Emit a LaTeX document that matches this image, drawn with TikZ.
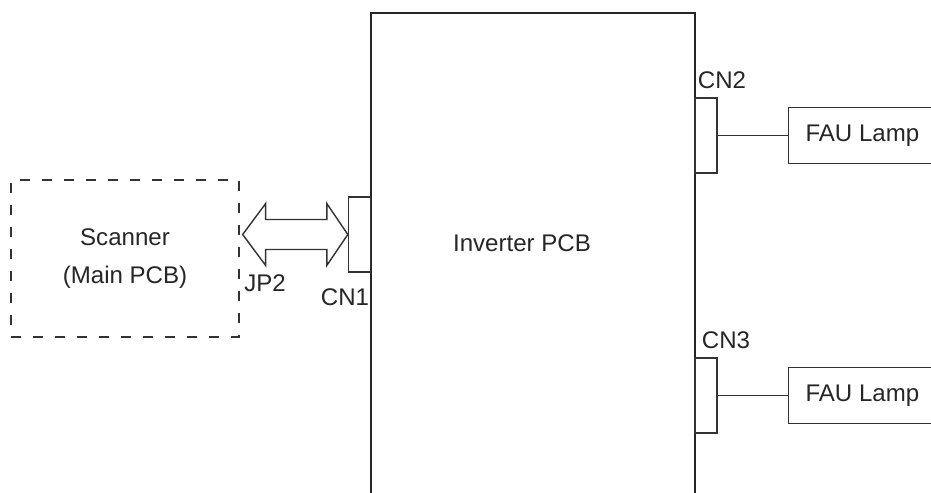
\documentclass[tikz,border=0pt]{standalone}
\usepackage{fontspec}
\setmainfont{Liberation Sans}
\usepackage{tikz}
\usetikzlibrary{arrows.meta,positioning,calc}

\begin{document}
\begin{tikzpicture}[
        x=0.02cm, y=-0.02cm,
        node distance=1.4cm,
        every node/.style={font=\fontsize{13.7}{21.6}\selectfont, text=black!85},
        board/.style={
            draw=black!80,
            line width=0.8pt,
            dash pattern=on 0.2cm off 0.24cm,
            minimum width=4.56cm,
            minimum height=3.14cm,
            align=center
        },
        conn/.style={
            draw=black!80,
            line width=0.8pt,
            minimum width=0.44cm,
            minimum height=1.5cm,
            inner sep=0pt
        },
        lamp/.style={
            draw=black!80,
            line width=0.8pt,
            minimum width=2.96cm,
            minimum height=1.12cm
        },
        wire/.style={draw=black!80, line width=0.8pt}
    ]

    \useasboundingbox (0,0) rectangle (931,493);
    \clip (0,0) rectangle (931,493);

    % scanner side
    \node[board] (scanner) at (125,258.5) {Scanner\\(Main PCB)};

    % inverter board, open at the bottom
    \draw[draw=black!85, line width=1.1pt] (371,520) -- (371,13) -- (695,13) -- (695,520);
    \node (inv) at (522,243) {Inverter PCB};

    \node[conn] (cn1) at (359.5,234.5) {};
    \node[conn] (cn2) at (706,135.5) {};
    \node[conn] (cn3) at (706,395.5) {};

    \node[lamp, right=of cn2] (lamp1) {FAU Lamp};
    \node[lamp, right=of cn3] (lamp2) {FAU Lamp};

    \draw[wire] (cn2) -- (lamp1);
    \draw[wire] (cn3) -- (lamp2);

    % double arrow JP2 <-> CN1
    \coordinate (tipR) at (cn1.west);
    \coordinate (tipL) at ($(scanner.east |- cn1.west)+(3,0)$);
    \draw[wire, line join=miter]
        (tipL) -- ++(23,-31) -- ++(0,16) -- ($(tipR)+(-21,-15)$) -- ++(0,-16)
        -- (tipR) -- ++(-21,31) -- ++(0,-16) -- ($(tipL)+(23,15)$) -- ++(0,16) -- cycle;

    \node (jp2) at (265,283) {JP2};
    \node (cn1l) at (345,297) {CN1};
    \node (cn2l) at (722,80) {CN2};
    \node (cn3l) at (726,340) {CN3};

\end{tikzpicture}
\end{document}
